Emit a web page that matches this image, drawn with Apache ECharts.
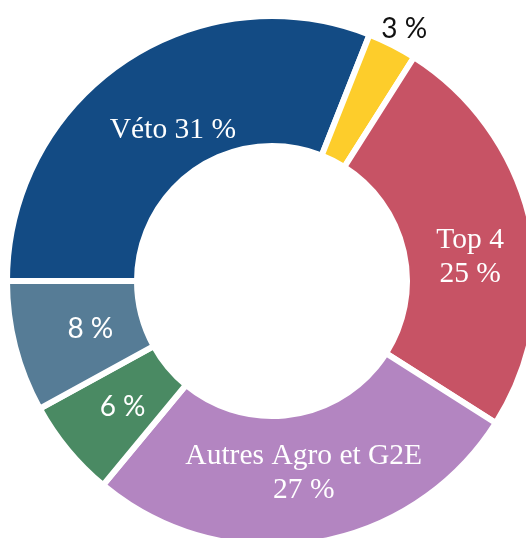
<!DOCTYPE html>
<html>
<head>
<meta charset="utf-8">
<script src="https://cdn.jsdelivr.net/npm/echarts@6/dist/echarts.min.js"></script>
<style>
  html, body { margin: 0; padding: 0; background: #fff; }
  #chart { width: 526px; height: 538px; }
</style>
</head>
<body>
<div id="chart"></div>
<script>
// slices, clockwise from 9 o'clock
var categories = ['Véto', 'Autre', 'Top 4', 'Autres Agro et G2E', 'Groupe 6', 'Groupe 8'];
var values = [31, 3, 25, 27, 6, 8];
var labelPrefix = ['Véto ', '', 'Top 4\n', 'Autres Agro et G2E\n', '', ''];
var colors = ['#134b84', '#fdcd2b', '#c75365', '#b385c1', '#4a8a63', '#567c96'];

function serif(off) {
    return {color: '#fff', fontFamily: 'Liberation Serif', fontSize: 29.5, lineHeight: 34, offset: off};
}
function sans(off, col) {
    return {color: col || '#fff', fontFamily: 'Lato', fontSize: 28, offset: off};
}
var labelStyles = [
    serif([15, 17]),
    sans([40, -71], '#111'),
    serif([0, 21]),
    serif([0, -8]),
    sans([7, -3]),
    sans([15, -3])
];

var chart = echarts.init(document.getElementById('chart'));

var data = values.map(function (v, i) {
    return {
        name: categories[i],
        value: v,
        itemStyle: {color: colors[i]},
        label: labelStyles[i]
    };
});

var option = {
    backgroundColor: '#fff',
    animation: false,
    series: [{
        type: 'pie',
        center: [272, 281],
        radius: [135, 265],
        startAngle: 180,
        clockwise: true,
        itemStyle: {
            borderColor: '#fff',
            borderWidth: 6
        },
        label: {
            show: true,
            position: 'inside',
            formatter: function (p) {
                return labelPrefix[p.dataIndex] + p.value + ' %';
            }
        },
        labelLine: {show: false},
        emphasis: {disabled: true},
        data: data
    }]
};
chart.setOption(option);
</script>
</body>
</html>
